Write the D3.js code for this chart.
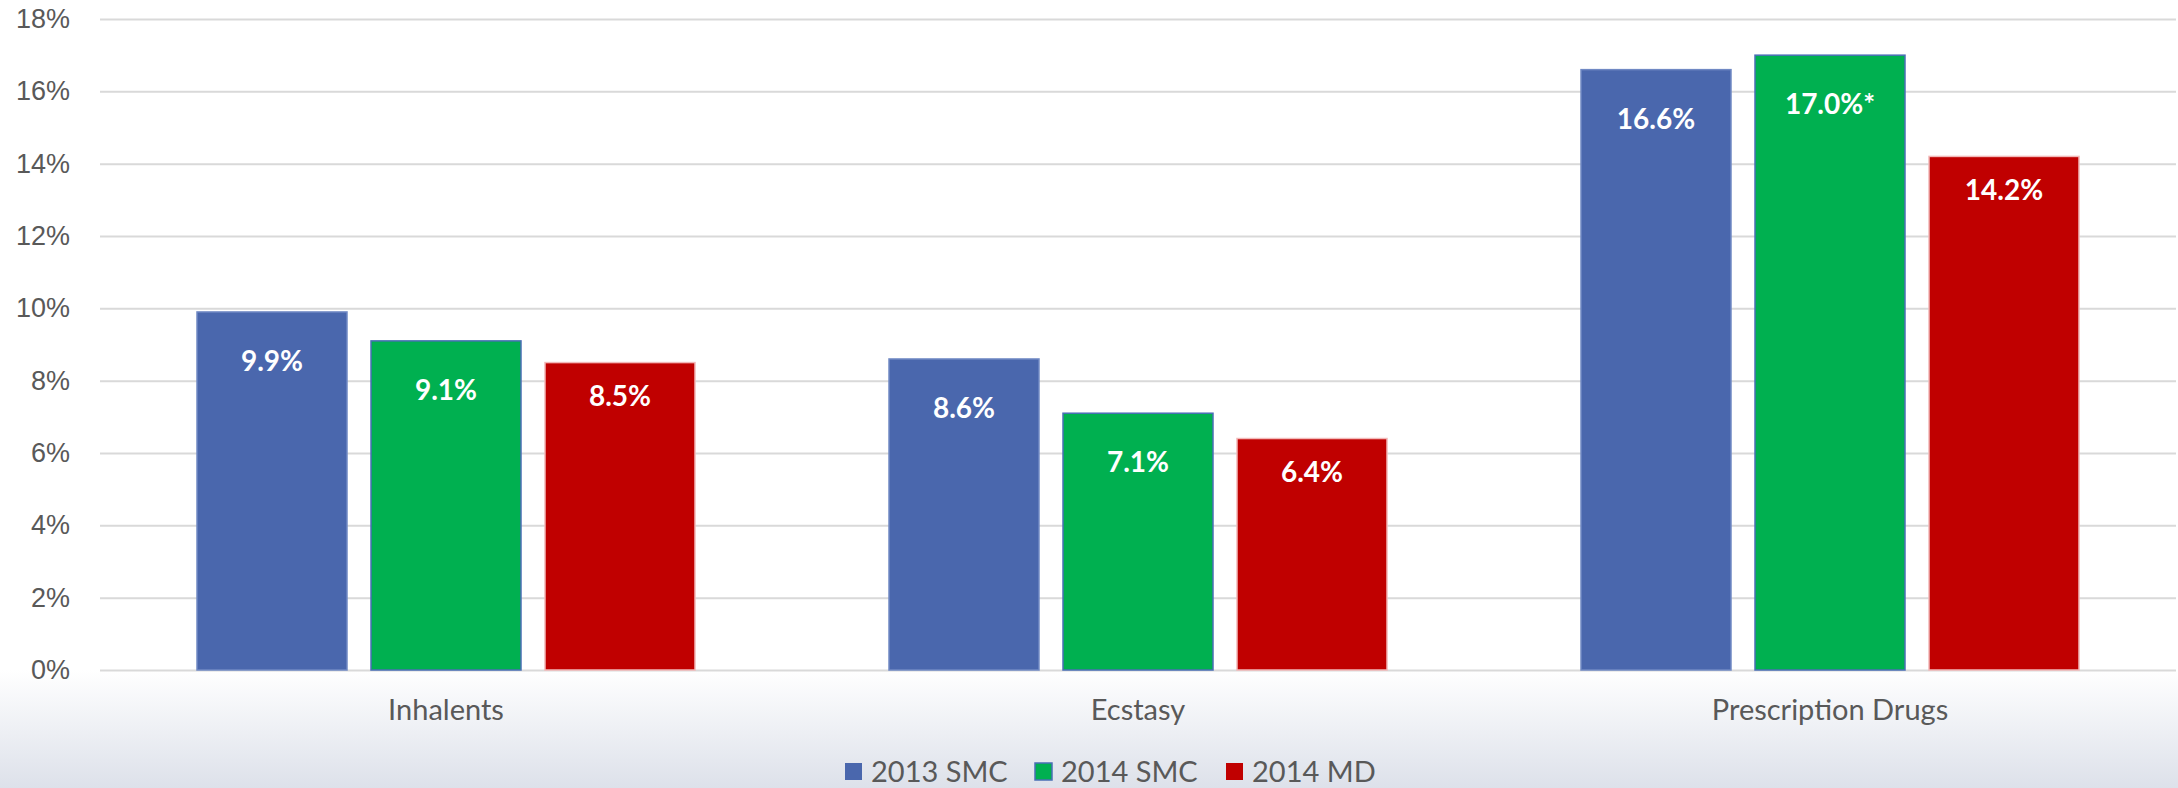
<!DOCTYPE html>
<html>
<head>
<meta charset="utf-8">
<script src="https://cdn.jsdelivr.net/npm/d3@7"></script>
<style>
  html, body { margin: 0; padding: 0; background: #fff; }
  svg { display: block; font-family: Lato, "Open Sans", sans-serif; }
</style>
</head>
<body>
<div id="root"></div>
<script>
var config = {
  chartWidth: 2178,
  chartHeight: 788,
  left: 100,
  right: 2176,
  top: 19,
  bottom: 670
};

// data
const categories = ['Inhalents', 'Ecstasy', 'Prescription Drugs'];
const seriesNames = ['2013 SMC', '2014 SMC', '2014 MD'];
const smc2013 = [9.9, 8.6, 16.6];
const smc2014 = [9.1, 7.1, 17.0];
const md2014 = [8.5, 6.4, 14.2];
const valueLabels = [
  ['9.9%', '8.6%', '16.6%'],
  ['9.1%', '7.1%', '17.0%*'],
  ['8.5%', '6.4%', '14.2%']
];
const yTicks = [0, 2, 4, 6, 8, 10, 12, 14, 16, 18];

const seriesValues = [smc2013, smc2014, md2014];
const colors = ['#4a67ad', '#00b050', '#c00000'];
const strokes = ['#7089c4', '#4a6fb5', '#f2b8b8'];
const labelOffset = [49, 49, 33];

const chart = d3.select('#root')
  .append('svg:svg')
  .attr('width', config.chartWidth)
  .attr('height', config.chartHeight);

// background gradient under the plot
const defs = chart.append('defs');
const grad = defs.append('linearGradient')
  .attr('id', 'bg')
  .attr('x1', 0).attr('y1', 0).attr('x2', 0).attr('y2', 1);
grad.append('stop').attr('offset', '0%').attr('stop-color', '#ffffff');
grad.append('stop').attr('offset', '100%').attr('stop-color', '#dde1ea');

chart.append('rect')
  .attr('x', 0)
  .attr('y', config.bottom)
  .attr('width', config.chartWidth)
  .attr('height', config.chartHeight - config.bottom)
  .attr('fill', 'url(#bg)');

// scales
const x0 = d3.scaleBand()
  .domain(categories)
  .range([config.left, config.right]);

const groupWidth = 498;
const x1 = d3.scaleBand()
  .domain(seriesNames)
  .range([0, groupWidth])
  .paddingInner(24 / 174);

const y = d3.scaleLinear()
  .domain([0, 18])
  .range([config.bottom, config.top]);

// y axis with gridlines
const yAxis = d3.axisLeft(y)
  .tickValues(yTicks)
  .tickFormat(d => d + '%')
  .tickSizeInner(-(config.right - config.left))
  .tickSizeOuter(0)
  .tickPadding(30);

const gy = chart.append('g')
  .attr('transform', `translate(${config.left},0)`)
  .call(yAxis);
gy.select('.domain').remove();
gy.selectAll('.tick line')
  .attr('stroke', '#d9d9d9')
  .attr('stroke-width', 2);
gy.selectAll('.tick text')
  .attr('fill', '#595959')
  .attr('font-size', 27);

// bars
const data = [];
categories.forEach((cat, ci) => {
  seriesNames.forEach((name, si) => {
    data.push({cat: cat, series: name, si: si, value: seriesValues[si][ci], label: valueLabels[si][ci]});
  });
});

const groupOffset = (x0.bandwidth() - groupWidth) / 2;

const bars = chart.append('g');
bars.selectAll('rect')
  .data(data)
  .enter()
    .append('rect')
    .attr('x', d => x0(d.cat) + groupOffset + x1(d.series))
    .attr('y', d => y(d.value))
    .attr('width', x1.bandwidth())
    .attr('height', d => y(0) - y(d.value))
    .attr('fill', d => colors[d.si])
    .attr('stroke', d => strokes[d.si])
    .attr('stroke-width', 1.5);

bars.selectAll('text')
  .data(data)
  .enter()
    .append('text')
    .attr('x', d => x0(d.cat) + groupOffset + x1(d.series) + x1.bandwidth() / 2)
    .attr('y', d => y(d.value) + labelOffset[d.si])
    .attr('dy', '0.36em')
    .attr('text-anchor', 'middle')
    .attr('fill', '#fff')
    .attr('font-weight', 'bold')
    .attr('font-size', 28)
    .text(d => d.label);

// category labels
chart.append('g').selectAll('text')
  .data(categories)
  .enter()
    .append('text')
    .attr('x', d => x0(d) + x0.bandwidth() / 2)
    .attr('y', 710)
    .attr('dy', '0.36em')
    .attr('text-anchor', 'middle')
    .attr('fill', '#595959')
    .attr('font-size', 29)
    .text(d => d);

// legend
const legendX = [845, 1035, 1226];
const legend = chart.append('g').selectAll('g')
  .data(seriesNames)
  .enter()
    .append('g')
    .attr('transform', (d, i) => `translate(${legendX[i]},763)`);
legend.append('rect')
  .attr('width', 17)
  .attr('height', 17)
  .attr('fill', (d, i) => colors[i])
  .attr('stroke', (d, i) => i === 1 ? '#4a6fb5' : 'none')
  .attr('stroke-width', 1.5);
legend.append('text')
  .attr('x', 26)
  .attr('y', 9)
  .attr('dy', '0.36em')
  .attr('fill', '#595959')
  .attr('font-size', 29)
  .text(d => d);
</script>
</body>
</html>
